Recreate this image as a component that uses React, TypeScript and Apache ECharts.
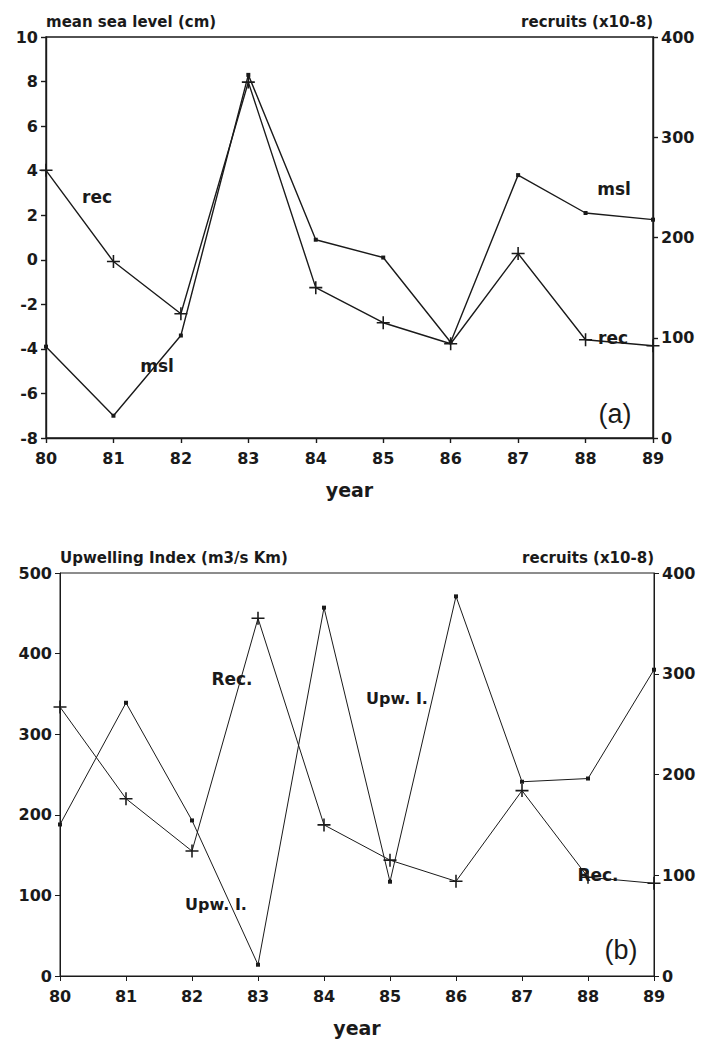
import React, { useEffect, useRef } from "react";
import * as echarts from "echarts";

const years = ["80", "81", "82", "83", "84", "85", "86", "87", "88", "89"];
const meanSeaLevel = [-3.9, -7.0, -3.4, 8.3, 0.9, 0.1, -3.7, 3.8, 2.1, 1.8];
const recruits = [267, 176, 124, 355, 150, 115, 94, 184, 98, 92];
const upwellingIndex = [188, 339, 193, 14, 457, 117, 471, 241, 245, 380];

const INK = "#1a1a1a";
const FONT = "DejaVu Sans";
const PLUS = "path://M4.4,0h1.2v4.4h4.4v1.2h-4.4v4.4h-1.2v-4.4h-4.4v-1.2h4.4z";

export default function App() {
  const ref = useRef<HTMLDivElement>(null);
  useEffect(() => {
    if (!ref.current) return;
    const chart = echarts.init(ref.current, undefined, { renderer: "svg" });
    const tickLabel = (m: number) => ({
      color: INK,
      fontFamily: FONT,
      fontWeight: "bold" as const,
      fontSize: 16,
      margin: m,
    });
    const axisTitle = (align: string) => ({
      color: INK,
      fontFamily: FONT,
      fontWeight: "bold" as const,
      fontSize: 15,
      align,
      verticalAlign: "middle",
    });
    const xAxis = (gridIndex: number, w: number, gap: number) => ({
      type: "category",
      gridIndex,
      data: years,
      boundaryGap: false,
      name: "year",
      nameLocation: "middle",
      nameGap: gap,
      nameTextStyle: { color: INK, fontFamily: FONT, fontWeight: "bold", fontSize: 19 },
      axisLine: { onZero: false, lineStyle: { color: INK, width: w } },
      axisTick: { show: true, length: 5, lineStyle: { color: INK, width: w } },
      axisLabel: tickLabel(12),
      splitLine: { show: false },
    });
    const yAxis = (
      gridIndex: number,
      position: string,
      min: number,
      max: number,
      interval: number,
      name: string,
      w: number
    ) => ({
      type: "value",
      gridIndex,
      position,
      min,
      max,
      interval,
      name,
      nameLocation: "end",
      nameGap: 15,
      nameTextStyle: axisTitle(position === "left" ? "left" : "right"),
      axisLine: { show: true, onZero: false, lineStyle: { color: INK, width: w } },
      axisTick: { show: true, length: 5, lineStyle: { color: INK, width: w } },
      axisLabel: tickLabel(8),
      splitLine: { show: false },
    });
    const labelText = (x: number, y: number, text: string, size = 16, bold = true) => ({
      type: "text",
      x,
      y,
      style: {
        text,
        fill: INK,
        font: `${bold ? "bold " : ""}${size}px ${bold ? FONT : "Liberation Sans"}`,
        align: "center",
        verticalAlign: "middle",
      },
    });
    chart.setOption({
      animation: false,
      backgroundColor: "#ffffff",
      grid: [
        { left: 46, right: 52, top: 37, height: 401, show: true, borderColor: INK, borderWidth: 1.4, backgroundColor: "transparent" },
        { left: 60, right: 51, top: 573, height: 403, show: true, borderColor: INK, borderWidth: 1, backgroundColor: "transparent" },
      ],
      xAxis: [xAxis(0, 1.4, 42), xAxis(1, 1, 42)],
      yAxis: [
        yAxis(0, "left", -8, 10, 2, "mean sea level (cm)", 1.4),
        yAxis(0, "right", 0, 400, 100, "recruits (x10-8)", 1.4),
        yAxis(1, "left", 0, 500, 100, "Upwelling Index (m3/s Km)", 1),
        yAxis(1, "right", 0, 400, 100, "recruits (x10-8)", 1),
      ],
      series: [
        {
          name: "msl",
          type: "line",
          xAxisIndex: 0,
          yAxisIndex: 0,
          data: meanSeaLevel,
          symbol: "rect",
          symbolSize: 4,
          itemStyle: { color: INK },
          lineStyle: { color: INK, width: 1.4 },
        },
        {
          name: "rec",
          type: "line",
          xAxisIndex: 0,
          yAxisIndex: 1,
          data: recruits,
          symbol: PLUS,
          symbolSize: 13,
          itemStyle: { color: INK },
          lineStyle: { color: INK, width: 1.4 },
        },
        {
          name: "Upw. I.",
          type: "line",
          xAxisIndex: 1,
          yAxisIndex: 2,
          data: upwellingIndex,
          symbol: "rect",
          symbolSize: 4,
          itemStyle: { color: INK },
          lineStyle: { color: INK, width: 1 },
        },
        {
          name: "Rec.",
          type: "line",
          xAxisIndex: 1,
          yAxisIndex: 3,
          data: recruits,
          symbol: PLUS,
          symbolSize: 13,
          itemStyle: { color: INK },
          lineStyle: { color: INK, width: 1 },
        },
      ],
      graphic: [
        labelText(97, 197, "rec", 17),
        labelText(157, 366, "msl", 17),
        labelText(614, 189, "msl", 17),
        labelText(613, 338, "rec", 17),
        labelText(615, 414, "(a)", 27, false),
        labelText(232, 679, "Rec.", 17),
        labelText(397, 698, "Upw. I.", 16),
        labelText(216, 904, "Upw. I.", 16),
        labelText(598, 875, "Rec.", 17),
        labelText(621, 950, "(b)", 27, false),
      ],
    });
    return () => chart.dispose();
  }, []);
  return (
    <div
      ref={ref}
      style={{ position: "absolute", left: 0, top: 0, width: 705, height: 1041 }}
    />
  );
}
